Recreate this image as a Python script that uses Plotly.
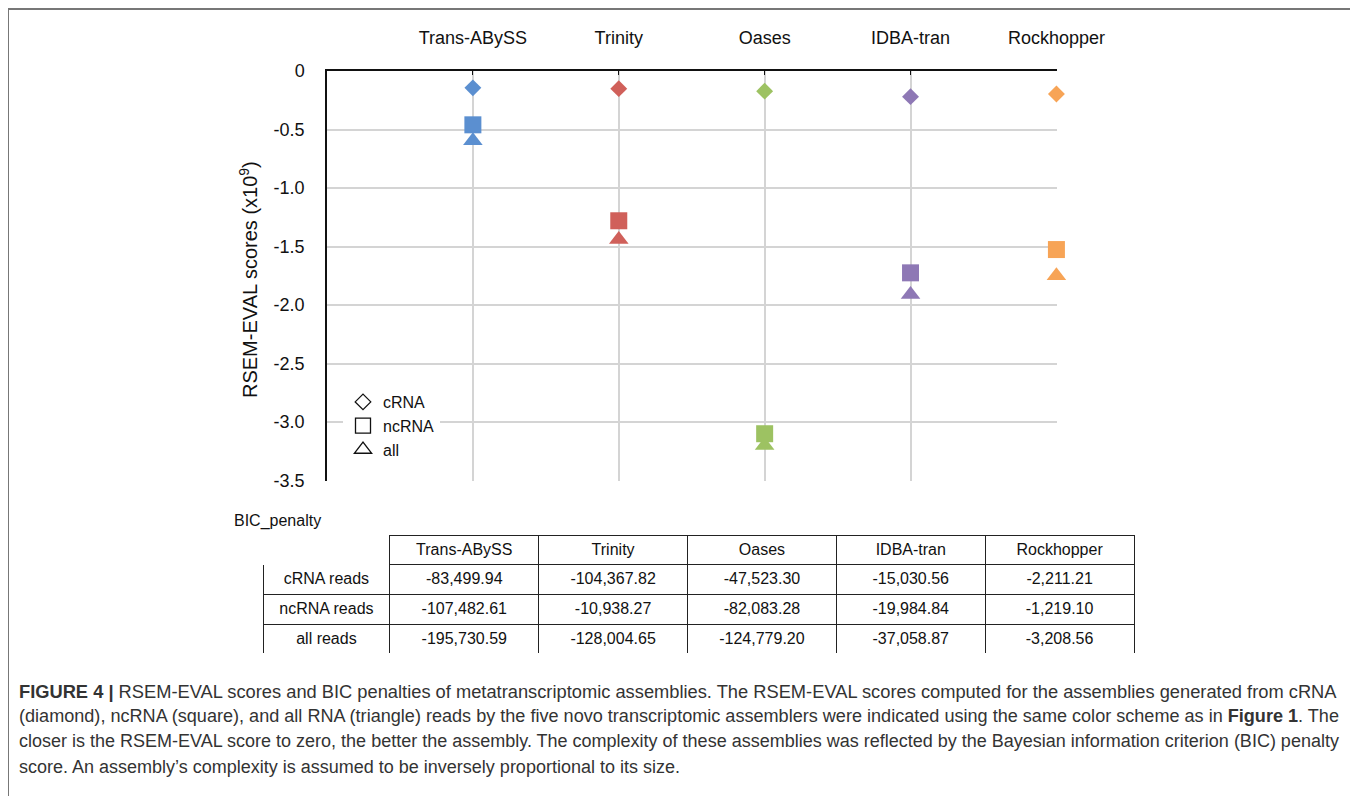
import plotly.graph_objects as go

assemblers = ["Trans-ABySS", "Trinity", "Oases", "IDBA-tran", "Rockhopper"]
colors = ["#5B8FD0", "#D0605A", "#9DC262", "#8E78B5", "#F7A456"]

# RSEM-EVAL scores (x10^9)
crna_scores = [-0.144, -0.151, -0.172, -0.219, -0.196]
ncrna_scores = [-0.46, -1.28, -3.10, -1.725, -1.526]
all_scores = [-0.596, -1.44, -3.20, -1.91, -1.75]

series_names = ["cRNA", "ncRNA", "all"]

y_ticks = [0, -0.5, -1.0, -1.5, -2.0, -2.5, -3.0, -3.5]
y_ticktext = ["0", "-0.5", "-1.0", "-1.5", "-2.0", "-2.5", "-3.0", "-3.5"]

# BIC penalty table
row_labels = ["cRNA reads", "ncRNA reads", "all reads"]
bic_trans_abyss = ["-83,499.94", "-107,482.61", "-195,730.59"]
bic_trinity = ["-104,367.82", "-10,938.27", "-128,004.65"]
bic_oases = ["-47,523.30", "-82,083.28", "-124,779.20"]
bic_idba = ["-15,030.56", "-19,984.84", "-37,058.87"]
bic_rockhopper = ["-2,211.21", "-1,219.10", "-3,208.56"]

caption_lines = [
    "<b>FIGURE 4 |</b> RSEM-EVAL scores and BIC penalties of metatranscriptomic assemblies. The RSEM-EVAL scores computed for the assemblies generated from cRNA",
    "(diamond), ncRNA (square), and all RNA (triangle) reads by the five novo transcriptomic assemblers were indicated using the same color scheme as in <b>Figure 1</b>. The",
    "closer is the RSEM-EVAL score to zero, the better the assembly. The complexity of these assemblies was reflected by the Bayesian information criterion (BIC) penalty",
    "score. An assembly\u2019s complexity is assumed to be inversely proportional to its size.",
]

# page body has an 8px margin; figure sized to fit the window exactly
OFF = 8
W, H = 1358 - OFF, 796 - OFF
FONT = "Liberation Sans, Arial, sans-serif"


def px(x):
    return (x - OFF) / W


def py(y):
    return 1 - (y - OFF) / H


fig = go.Figure()

# data traces (draw order: triangles, squares, diamonds)
fig.add_trace(go.Scatter(x=assemblers, y=all_scores, mode="markers", showlegend=False, cliponaxis=False,
                         marker=dict(symbol="triangle-up", size=17, color=colors, line=dict(width=0))))
fig.add_trace(go.Scatter(x=assemblers, y=ncrna_scores, mode="markers", showlegend=False, cliponaxis=False,
                         marker=dict(symbol="square", size=17, color=colors, line=dict(width=0))))
fig.add_trace(go.Scatter(x=assemblers, y=crna_scores, mode="markers", showlegend=False, cliponaxis=False,
                         marker=dict(symbol="diamond", size=13, color=colors, line=dict(width=0))))

# legend entries
legend_symbols = ["diamond-open", "square-open", "triangle-up-open"]
legend_sizes = [12, 15, 15]
for name, sym, sz in zip(series_names, legend_symbols, legend_sizes):
    fig.add_trace(go.Scatter(x=[None], y=[None], mode="markers", name=name,
                             marker=dict(symbol=sym, size=sz, color="#111", line=dict(width=1.3, color="#111"))))

# table
fig.add_trace(go.Table(
    domain=dict(x=[px(263), px(1134)], y=[py(654), py(535)]),
    columnwidth=[127, 149, 149, 149, 149, 149],
    header=dict(values=[""] + assemblers,
                line=dict(color=["white"] + ["#222"] * 5, width=1),
                fill=dict(color="white"), align="center", height=29,
                font=dict(family=FONT, size=16, color="#111")),
    cells=dict(values=[row_labels, bic_trans_abyss, bic_trinity, bic_oases, bic_idba, bic_rockhopper],
               line=dict(color="#222", width=1), fill=dict(color="white"),
               align="center", height=30,
               font=dict(family=FONT, size=16, color="#111")),
))

fig.update_layout(
    width=W, height=H,
    margin=dict(l=0, r=0, t=0, b=0, autoexpand=False),
    paper_bgcolor="white", plot_bgcolor="white",
    font=dict(family=FONT, size=17, color="#111"),
    xaxis=dict(domain=[px(327), px(1057)], type="category", categoryorder="array",
               categoryarray=assemblers, range=[-1, 4.004], side="top", automargin=False,
               showline=True, linecolor="#111", linewidth=1.5, mirror=False,
               ticks="inside", ticklen=4, tickcolor="#111", tickwidth=1,
               showgrid=True, gridcolor="#d4d4d4", gridwidth=1.5,
               ticklabelstandoff=18, zeroline=False,
               tickfont=dict(size=18, color="#111")),
    yaxis=dict(domain=[py(481), py(71)], range=[-3.504, 0], automargin=False,
               tickvals=y_ticks, ticktext=y_ticktext,
               showline=True, linecolor="#111", linewidth=1.5,
               ticks="", showgrid=True, gridcolor="#d4d4d4", gridwidth=1.5,
               zeroline=False, ticklabelstandoff=17,
               tickfont=dict(size=18, color="#111")),
    legend=dict(x=px(343), y=py(385), xanchor="left", yanchor="top",
                bgcolor="white", borderwidth=0, font=dict(size=16, color="#111"),
                itemsizing="trace", tracegroupgap=0, itemwidth=30),
    showlegend=True,
)

fig.add_annotation(xref="paper", yref="paper", x=px(249), y=py(280),
                   text="RSEM-EVAL scores (x10<sup>9</sup>)", textangle=-90,
                   showarrow=False, font=dict(size=20, color="#111"),
                   xanchor="center", yanchor="middle")

fig.add_annotation(xref="paper", yref="paper", x=px(232), y=py(521),
                   text="BIC_penalty", showarrow=False, xanchor="left", yanchor="middle",
                   font=dict(size=16, color="#111"))

line_y = [691, 716, 741, 767]
line_sizes = [18.3, 18.08, 18.0, 18.0]
for txt, yy, fs in zip(caption_lines, line_y, line_sizes):
    fig.add_annotation(xref="paper", yref="paper", x=px(17), y=py(yy),
                       text=txt, showarrow=False, xanchor="left", yanchor="middle",
                       align="left", font=dict(size=fs, color="#333"))

# figure frame
fig.add_shape(type="rect", xref="paper", yref="paper",
              x0=px(8), x1=px(1355), y0=-0.02, y1=py(9),
              line=dict(color="#777", width=2), fillcolor="rgba(0,0,0,0)", layer="below")

fig.write_html("out.html")
